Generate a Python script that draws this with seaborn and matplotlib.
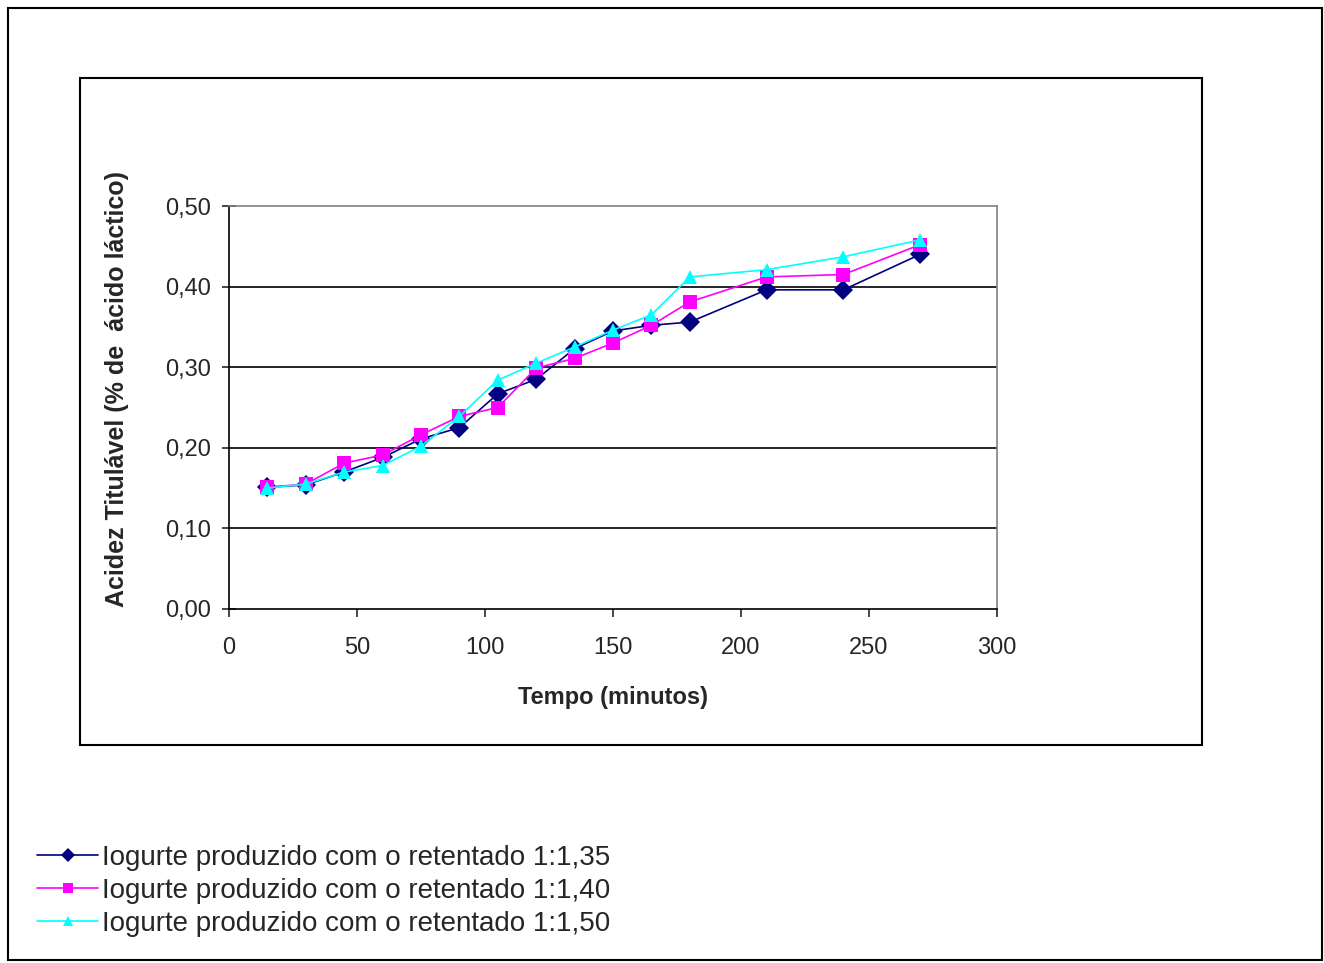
import numpy as np
import pandas as pd
import matplotlib
matplotlib.use('Agg')
import matplotlib.pyplot as plt
import seaborn as sns
from matplotlib.patches import Rectangle
from matplotlib.ticker import FuncFormatter

# Data
tempo = [15, 30, 45, 60, 75, 90, 105, 120, 135, 150, 165, 180, 210, 240, 270]
acidez_135 = [0.151, 0.154, 0.170, 0.188, 0.211, 0.225, 0.267, 0.285, 0.323, 0.345, 0.352, 0.356, 0.396, 0.396, 0.440]
acidez_140 = [0.151, 0.155, 0.181, 0.191, 0.216, 0.239, 0.250, 0.299, 0.311, 0.330, 0.352, 0.381, 0.412, 0.415, 0.452]
acidez_150 = [0.150, 0.155, 0.170, 0.178, 0.202, 0.239, 0.284, 0.305, 0.325, 0.346, 0.365, 0.412, 0.421, 0.437, 0.458]
series_names = [
    'Iogurte produzido com o retentado 1:1,35',
    'Iogurte produzido com o retentado 1:1,40',
    'Iogurte produzido com o retentado 1:1,50',
]
y_ticks = [0.0, 0.1, 0.2, 0.3, 0.4, 0.5]
x_ticks = [0, 50, 100, 150, 200, 250, 300]

df = pd.DataFrame({
    'Tempo': tempo * 3,
    'Acidez': acidez_135 + acidez_140 + acidez_150,
    'Serie': [n for n in series_names for _ in tempo],
})

sns.set_style('white')
plt.rcParams['font.family'] = ['Liberation Sans', 'DejaVu Sans']

fig = plt.figure(figsize=(13.24, 9.63), dpi=100)
ax = fig.add_axes([229 / 1324, 1 - 609 / 963, 768 / 1324, 403 / 963])

palette = {series_names[0]: '#000080', series_names[1]: '#FF00FF', series_names[2]: '#00FFFF'}
markers = {series_names[0]: 'D', series_names[1]: 's', series_names[2]: '^'}
sns.lineplot(data=df, x='Tempo', y='Acidez', hue='Serie', style='Serie',
             palette=palette, markers=markers, dashes=False, markersize=10,
             linewidth=1.2, markeredgewidth=0, ax=ax, legend=True)

ax.set_xlim(0, 300)
ax.set_ylim(0, 0.5)
ax.set_xticks(x_ticks)
ax.set_yticks(y_ticks)
ax.yaxis.set_major_formatter(FuncFormatter(lambda v, p: f'{v:.2f}'.replace('.', ',')))
for y in y_ticks[1:-1]:
    ax.axhline(y, color='black', linewidth=1.2, zorder=0)

for side in ['left', 'bottom']:
    ax.spines[side].set_color('black')
    ax.spines[side].set_linewidth(1.2)
for side in ['top', 'right']:
    ax.spines[side].set_color('#808080')
    ax.spines[side].set_linewidth(1.2)

ax.tick_params(axis='x', direction='out', length=6, width=1.2, labelsize=17, pad=14, bottom=True)
ax.tick_params(axis='y', direction='inout', length=10, width=1.2, labelsize=17, pad=8, left=True)
ax.set_xlabel('Tempo (minutos)', fontsize=17, fontweight='bold')
ax.xaxis.set_label_coords(0.50, -0.19)
ax.set_ylabel('Acidez Titulável (% de  ácido láctico)', fontsize=18, fontweight='bold')
ax.yaxis.set_label_coords(-0.13, 0.545)

handles, labels = ax.get_legend_handles_labels()
for h in handles:
    h.set_markersize(7)
ax.get_legend().remove()
fig.legend(handles, labels, loc='upper left', bbox_to_anchor=(26 / 1324, 1 - 834 / 963),
           frameon=False, fontsize=20, handlelength=2.2, labelspacing=0.25,
           handletextpad=0.15, borderaxespad=0)

# chart area border and outer border
fig.add_artist(Rectangle((80 / 1324, 1 - 745 / 963), 1122 / 1324, 667 / 963,
                         transform=fig.transFigure, fill=False, edgecolor='black', linewidth=1.5))
fig.add_artist(Rectangle((8 / 1324, 1 - 960 / 963), 1314 / 1324, 952 / 963,
                         transform=fig.transFigure, fill=False, edgecolor='black', linewidth=1.5))

fig.savefig('out.png', dpi=100)
